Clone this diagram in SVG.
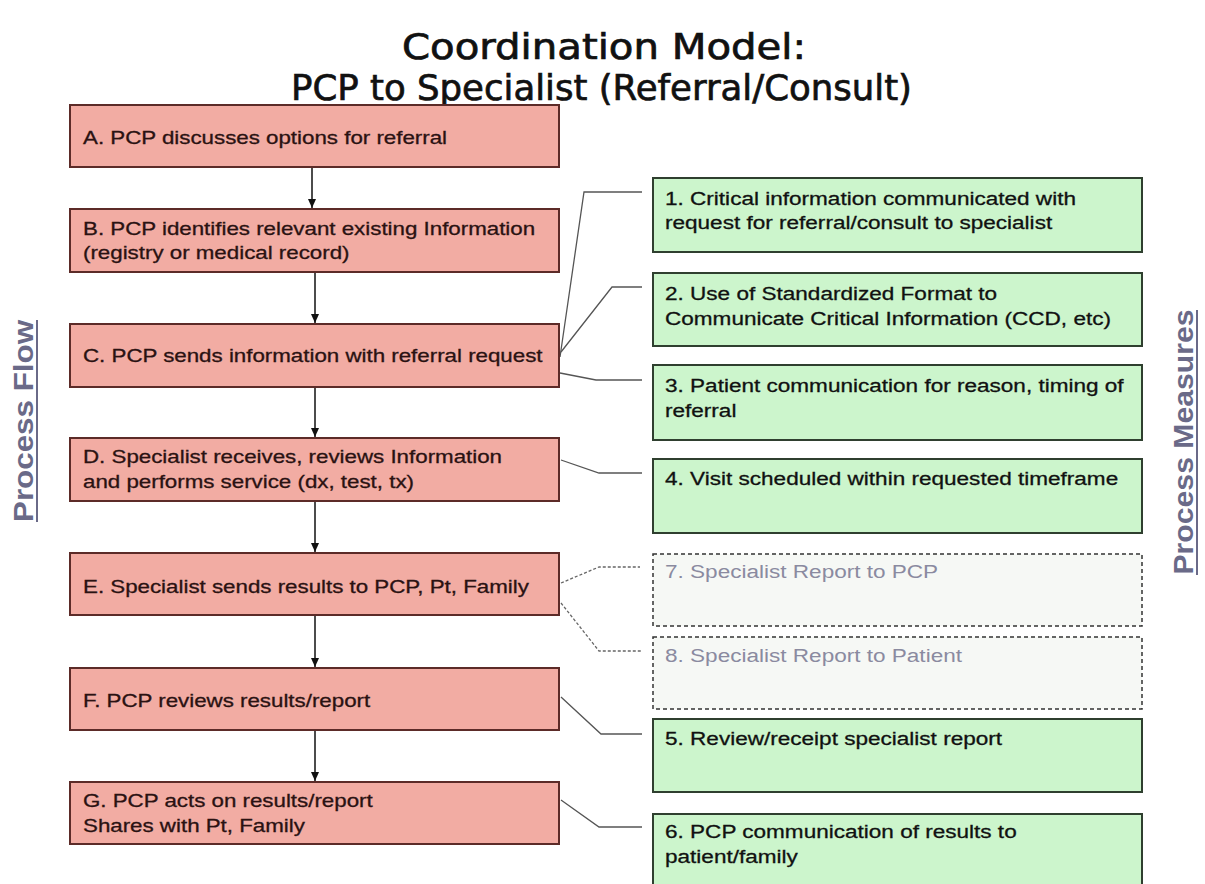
<svg xmlns="http://www.w3.org/2000/svg" width="1205" height="884" viewBox="0 0 1205 884">
<style>
.title{font-family:"DejaVu Sans","Liberation Sans",sans-serif;font-size:35px;fill:#111;stroke:#111;stroke-width:0.7}
.pbox{fill:#f2aca3;stroke:#5c2b28;stroke-width:2}
.gbox{fill:#ccf5cc;stroke:#2f3f2f;stroke-width:2}
.dbox{fill:#f6f8f5;stroke:#333;stroke-width:1.5;stroke-dasharray:4 3}
.pt{font-family:"Liberation Sans",Arial,sans-serif;font-size:18.6px;fill:#2a1212;stroke:#2a1212;stroke-width:0.3}
.gt{font-family:"Liberation Sans",Arial,sans-serif;font-size:18.8px;fill:#111;stroke:#111;stroke-width:0.3}
.dt{font-family:"Liberation Sans",Arial,sans-serif;font-size:18.8px;fill:#8a8aa0}
.lab{font-family:"Liberation Sans",Arial,sans-serif;font-size:28px;font-weight:bold;fill:#6a6a88}
.ul{stroke:#6a6a88;stroke-width:2}
.flow{stroke:#111;stroke-width:1.5;fill:none}
.conn{stroke:#555;stroke-width:1.3;fill:none}
.dconn{stroke:#666;stroke-width:1.3;fill:none;stroke-dasharray:3 2}
</style>
<defs>
<marker id="ah" markerWidth="10" markerHeight="10" refX="9" refY="5" orient="auto" markerUnits="userSpaceOnUse">
<path d="M0,1 L9,5 L0,9 z" fill="#111"/>
</marker>
</defs>
<rect width="1205" height="884" fill="#fff"/>
<g id="title">
<text class="title" x="402" y="59" textLength="404" lengthAdjust="spacingAndGlyphs">Coordination Model:</text>
<text class="title" x="291" y="100" textLength="621" lengthAdjust="spacingAndGlyphs">PCP to Specialist (Referral/Consult)</text>
</g>
<g id="label-flow">
<text class="lab" transform="translate(33 421) rotate(-90)" text-anchor="middle" textLength="202" lengthAdjust="spacingAndGlyphs">Process Flow</text>
<line class="ul" x1="37" y1="320" x2="37" y2="522"/>
</g>
<g id="label-measures">
<text class="lab" transform="translate(1193 442) rotate(-90)" text-anchor="middle" textLength="265" lengthAdjust="spacingAndGlyphs">Process Measures</text>
<line class="ul" x1="1197" y1="310" x2="1197" y2="575"/>
</g>
<g id="connectors">
<line class="flow" x1="312" y1="167" x2="312" y2="208" marker-end="url(#ah)"/>
<line class="flow" x1="315" y1="272" x2="315" y2="323" marker-end="url(#ah)"/>
<line class="flow" x1="315" y1="387" x2="315" y2="437" marker-end="url(#ah)"/>
<line class="flow" x1="315" y1="501" x2="315" y2="552" marker-end="url(#ah)"/>
<line class="flow" x1="315" y1="615" x2="315" y2="667" marker-end="url(#ah)"/>
<line class="flow" x1="315" y1="730" x2="315" y2="781" marker-end="url(#ah)"/>
<polyline class="conn" points="560,357 584,192 642,192"/>
<polyline class="conn" points="561,352 612,287 642,287"/>
<polyline class="conn" points="560,373 596,380 642,380"/>
<polyline class="conn" points="561,460 599,473 642,473"/>
<polyline class="dconn" points="561,583 599,567 640,567"/>
<polyline class="dconn" points="561,603 599,651 642,651"/>
<polyline class="conn" points="561,697 601,734 642,734"/>
<polyline class="conn" points="561,800 599,827 642,827"/>
</g>
<g id="nodeA"><rect class="pbox" x="70" y="105" width="489" height="62"/>
<text class="pt" transform="translate(83 144) scale(1.2 1)">A. PCP discusses options for referral</text></g>
<g id="nodeB"><rect class="pbox" x="70" y="209" width="489" height="63"/>
<text class="pt" transform="translate(83 235) scale(1.2 1)">B. PCP identifies relevant existing Information</text>
<text class="pt" transform="translate(83 259) scale(1.2 1)">(registry or medical record)</text></g>
<g id="nodeC"><rect class="pbox" x="70" y="324" width="489" height="63"/>
<text class="pt" transform="translate(83 362) scale(1.2 1)">C. PCP sends information with referral request</text></g>
<g id="nodeD"><rect class="pbox" x="70" y="438" width="489" height="63"/>
<text class="pt" transform="translate(83 463) scale(1.2 1)">D. Specialist receives, reviews Information</text>
<text class="pt" transform="translate(83 488) scale(1.2 1)">and performs service (dx, test, tx)</text></g>
<g id="nodeE"><rect class="pbox" x="70" y="553" width="489" height="62"/>
<text class="pt" transform="translate(83 593) scale(1.2 1)">E. Specialist sends results to PCP, Pt, Family</text></g>
<g id="nodeF"><rect class="pbox" x="70" y="668" width="489" height="62"/>
<text class="pt" transform="translate(83 707) scale(1.2 1)">F. PCP reviews results/report</text></g>
<g id="nodeG"><rect class="pbox" x="70" y="782" width="489" height="62"/>
<text class="pt" transform="translate(83 807) scale(1.2 1)">G. PCP acts on results/report</text>
<text class="pt" transform="translate(83 832) scale(1.2 1)">Shares with Pt, Family</text></g>
<g id="m1"><rect class="gbox" x="653" y="178" width="489" height="74"/>
<text class="gt" transform="translate(665 205) scale(1.2 1)">1. Critical information communicated with</text>
<text class="gt" transform="translate(665 229) scale(1.2 1)">request for referral/consult to specialist</text></g>
<g id="m2"><rect class="gbox" x="653" y="273" width="489" height="73"/>
<text class="gt" transform="translate(665 300) scale(1.2 1)">2. Use of Standardized Format to</text>
<text class="gt" transform="translate(665 325) scale(1.2 1)">Communicate Critical Information (CCD, etc)</text></g>
<g id="m3"><rect class="gbox" x="653" y="365" width="489" height="75"/>
<text class="gt" transform="translate(665 392) scale(1.2 1)">3. Patient communication for reason, timing of</text>
<text class="gt" transform="translate(665 417) scale(1.2 1)">referral</text></g>
<g id="m4"><rect class="gbox" x="653" y="459" width="489" height="74"/>
<text class="gt" transform="translate(665 485) scale(1.2 1)">4. Visit scheduled within requested timeframe</text></g>
<g id="m7"><rect class="dbox" x="653" y="554" width="489" height="72"/>
<text class="dt" transform="translate(665 578) scale(1.2 1)">7. Specialist Report to PCP</text></g>
<g id="m8"><rect class="dbox" x="653" y="637" width="489" height="72"/>
<text class="dt" transform="translate(665 662) scale(1.2 1)">8. Specialist Report to Patient</text></g>
<g id="m5"><rect class="gbox" x="653" y="719" width="489" height="73"/>
<text class="gt" transform="translate(665 745) scale(1.2 1)">5. Review/receipt specialist report</text></g>
<g id="m6"><rect class="gbox" x="653" y="814" width="489" height="80"/>
<text class="gt" transform="translate(665 838) scale(1.2 1)">6. PCP communication of results to</text>
<text class="gt" transform="translate(665 863) scale(1.2 1)">patient/family</text></g>
</svg>
